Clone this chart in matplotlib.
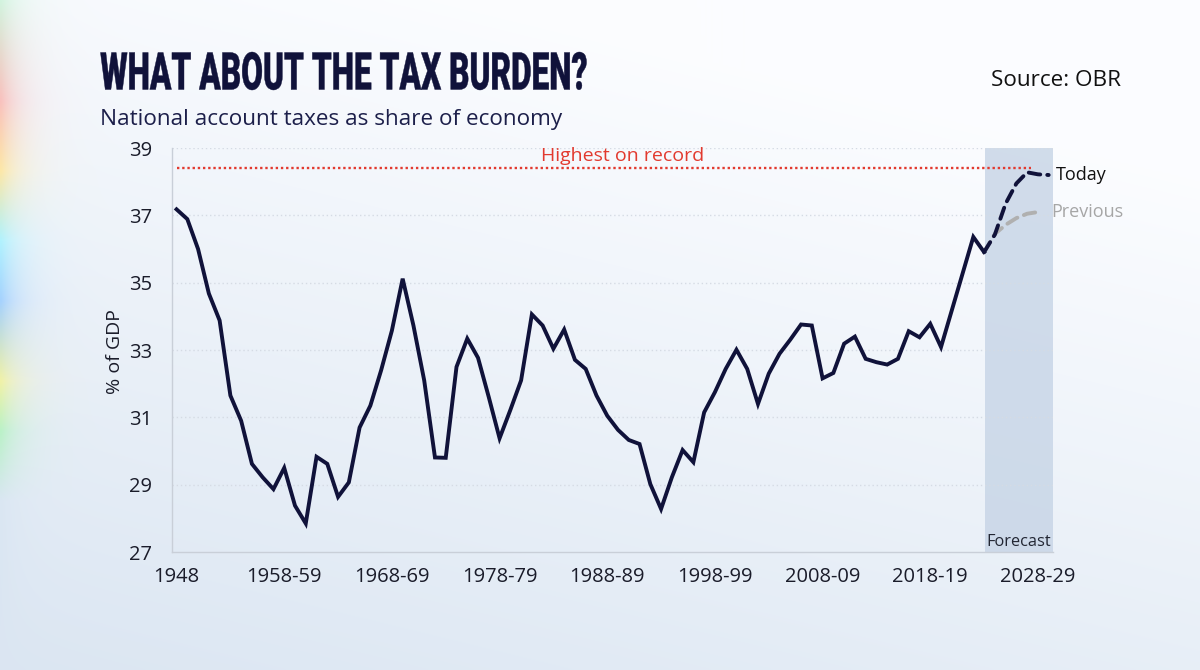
import numpy as np
import matplotlib.pyplot as plt
from matplotlib.textpath import TextPath
from matplotlib.patches import PathPatch
from matplotlib.font_manager import FontProperties
from matplotlib.transforms import Affine2D

# National account taxes, % of GDP (one value per fiscal year from 1948)
outturn = [37.18, 36.89, 36.0, 34.68, 33.88, 31.65, 30.9, 29.62, 29.22, 28.87,
           29.5, 28.38, 27.85, 29.83, 29.62, 28.64, 29.07, 30.7, 31.35, 32.4,
           33.58, 35.12, 33.73, 32.1, 29.81, 29.8, 32.5, 33.34, 32.77, 31.6,
           30.38, 31.22, 32.1, 34.06, 33.73, 33.04, 33.61, 32.71, 32.44, 31.65,
           31.05, 30.63, 30.33, 30.21, 29.02, 28.28, 29.22, 30.03, 29.67, 31.15,
           31.75, 32.44, 33.01, 32.44, 31.4, 32.3, 32.89, 33.31, 33.76, 33.73,
           32.16, 32.32, 33.19, 33.4, 32.74, 32.64, 32.57, 32.74, 33.56, 33.38,
           33.78, 33.09, 34.18, 35.27, 36.36, 35.91]
today = [35.91, 36.43, 37.35, 37.95, 38.28, 38.22, 38.2]
previous = [35.91, 36.45, 36.72, 36.92, 37.05, 37.1]
record = 38.4

tick_pos = [0, 10, 20, 30, 40, 50, 60, 70, 80]
tick_labels = ['1948', '1958-59', '1968-69', '1978-79', '1988-89',
               '1998-99', '2008-09', '2018-19', '2028-29']
yticks = [27, 29, 31, 33, 35, 37, 39]

navy = '#10123a'
font = 'Open Sans'

fig = plt.figure(figsize=(12, 6.7), dpi=100)

# background: pale gradient with a soft rainbow glow on the left edge
H, W = 335, 600
yy, xx = np.mgrid[0:H, 0:W]
t = np.clip(0.8 * yy / H + 0.35 * (1 - xx / W) - 0.22, 0, 1)[..., None]
top = np.array([0.985, 0.99, 1.0])
bot = np.array([0.85, 0.895, 0.945])
bg = top * (1 - t) + bot * t
stops_y = np.array([0, 50, 85, 120, 150, 190, 215, 250, 335]) / 335 * H
stops_c = np.array([[0.8, 0.95, 0.85], [0.98, 0.72, 0.7], [1.0, 0.9, 0.6],
                    [0.65, 0.95, 1.0], [0.6, 0.8, 1.0], [0.95, 0.95, 0.6],
                    [0.7, 0.95, 0.75], [0.85, 0.9, 0.95], [0.86, 0.9, 0.95]])
glow = np.stack([np.interp(yy[:, 0], stops_y, stops_c[:, k]) for k in range(3)], axis=1)
w = np.exp(-xx / 10.0)[..., None] * 0.85
bg = bg * (1 - w) + glow[:, None, :] * w
bax = fig.add_axes([0, 0, 1, 1], zorder=-10)
bax.imshow(bg, aspect='auto', extent=[0, 1200, 670, 0], interpolation='bicubic')
bax.set_xlim(0, 1200)
bax.set_ylim(670, 0)
bax.axis('off')

# condensed headline: squeeze a heavy font into the headline's box
fp = FontProperties(family='Roboto', weight='black')
tp = TextPath((0, 0), 'WHAT ABOUT THE TAX BURDEN?', size=1, prop=fp)
ext = tp.get_extents()
tr = (Affine2D().translate(-ext.x0, -ext.y0)
      .scale(486 / ext.width, -38 / ext.height).translate(100.5, 90))
bax.add_patch(PathPatch(tr.transform_path(tp), facecolor=navy, edgecolor=navy,
                        lw=0.3))

ax = fig.add_axes([0.143, 0.176, 0.7345, 0.603])
ax.patch.set_alpha(0)
x_out = np.arange(len(outturn))
x_fc = np.arange(len(outturn) - 1, len(outturn) - 1 + len(today))
x_prev = np.arange(len(outturn) - 1, len(outturn) - 1 + len(previous))

ax.set_xlim(-0.46, 81.4)
ax.set_ylim(27, 39)
ax.axvspan(75.1, 81.4, color='#c6d4e6', alpha=0.8, lw=0, zorder=0)

for v in yticks[1:]:
    ax.axhline(v, color='#d5dbe4', lw=1.0, ls=(0, (1, 2)), zorder=1)

ax.plot([0, 79.4], [record, record], color='#e23a2f', lw=1.7,
        ls=(0, (1, 1.2)), zorder=2)
ax.text(41.4, 38.76, 'Highest on record', color='#e23a2f', fontsize=14,
        family=font, ha='center', va='center')

ax.plot(x_prev, previous, color='#b0b0b0', lw=2.8, ls=(0, (3, 1.8)),
        dash_capstyle='round', zorder=3)
ax.plot(x_fc, today, color=navy, lw=2.8, ls=(0, (3, 1.8)),
        dash_capstyle='round', zorder=4)
ax.plot(x_out, outturn, color=navy, lw=2.8, solid_joinstyle='miter', zorder=5)

ax.text(81.65, 38.2, 'Today', color='#111111', fontsize=13, family=font,
        va='center', ha='left', clip_on=False)
ax.text(81.2, 37.1, 'Previous', color='#a6a6a6', fontsize=13, family=font,
        va='center', ha='left', clip_on=False)
ax.text(78.25, 27.3, 'Forecast', color='#222633', fontsize=11.8, family=font,
        ha='center', va='center')

ax.set_xticks(tick_pos)
ax.set_xticklabels(tick_labels)
ax.set_yticks(yticks)
ax.tick_params(length=0, labelsize=14.5, colors='#1a1c2a', pad=11)
ax.tick_params(axis='y', pad=14)
for lab in ax.get_xticklabels() + ax.get_yticklabels():
    lab.set_family(font)
for s in ['top', 'right']:
    ax.spines[s].set_visible(False)
for s in ['left', 'bottom']:
    ax.spines[s].set_color('#c9cfd8')
    ax.spines[s].set_linewidth(1.0)

fig.text(0.096, 0.4746, '% of GDP', rotation=90, fontsize=14, family=font,
         color='#1a1c2a', ha='center', va='center')

fig.text(0.0835, 0.822, 'National account taxes as share of economy',
         fontsize=16.2, family=font, color='#1c1f4a', ha='left', va='center')
fig.text(0.934, 0.88, 'Source: OBR', fontsize=16.2, family=font,
         color='#111111', ha='right', va='center')

fig.savefig('out.png', dpi=100)
